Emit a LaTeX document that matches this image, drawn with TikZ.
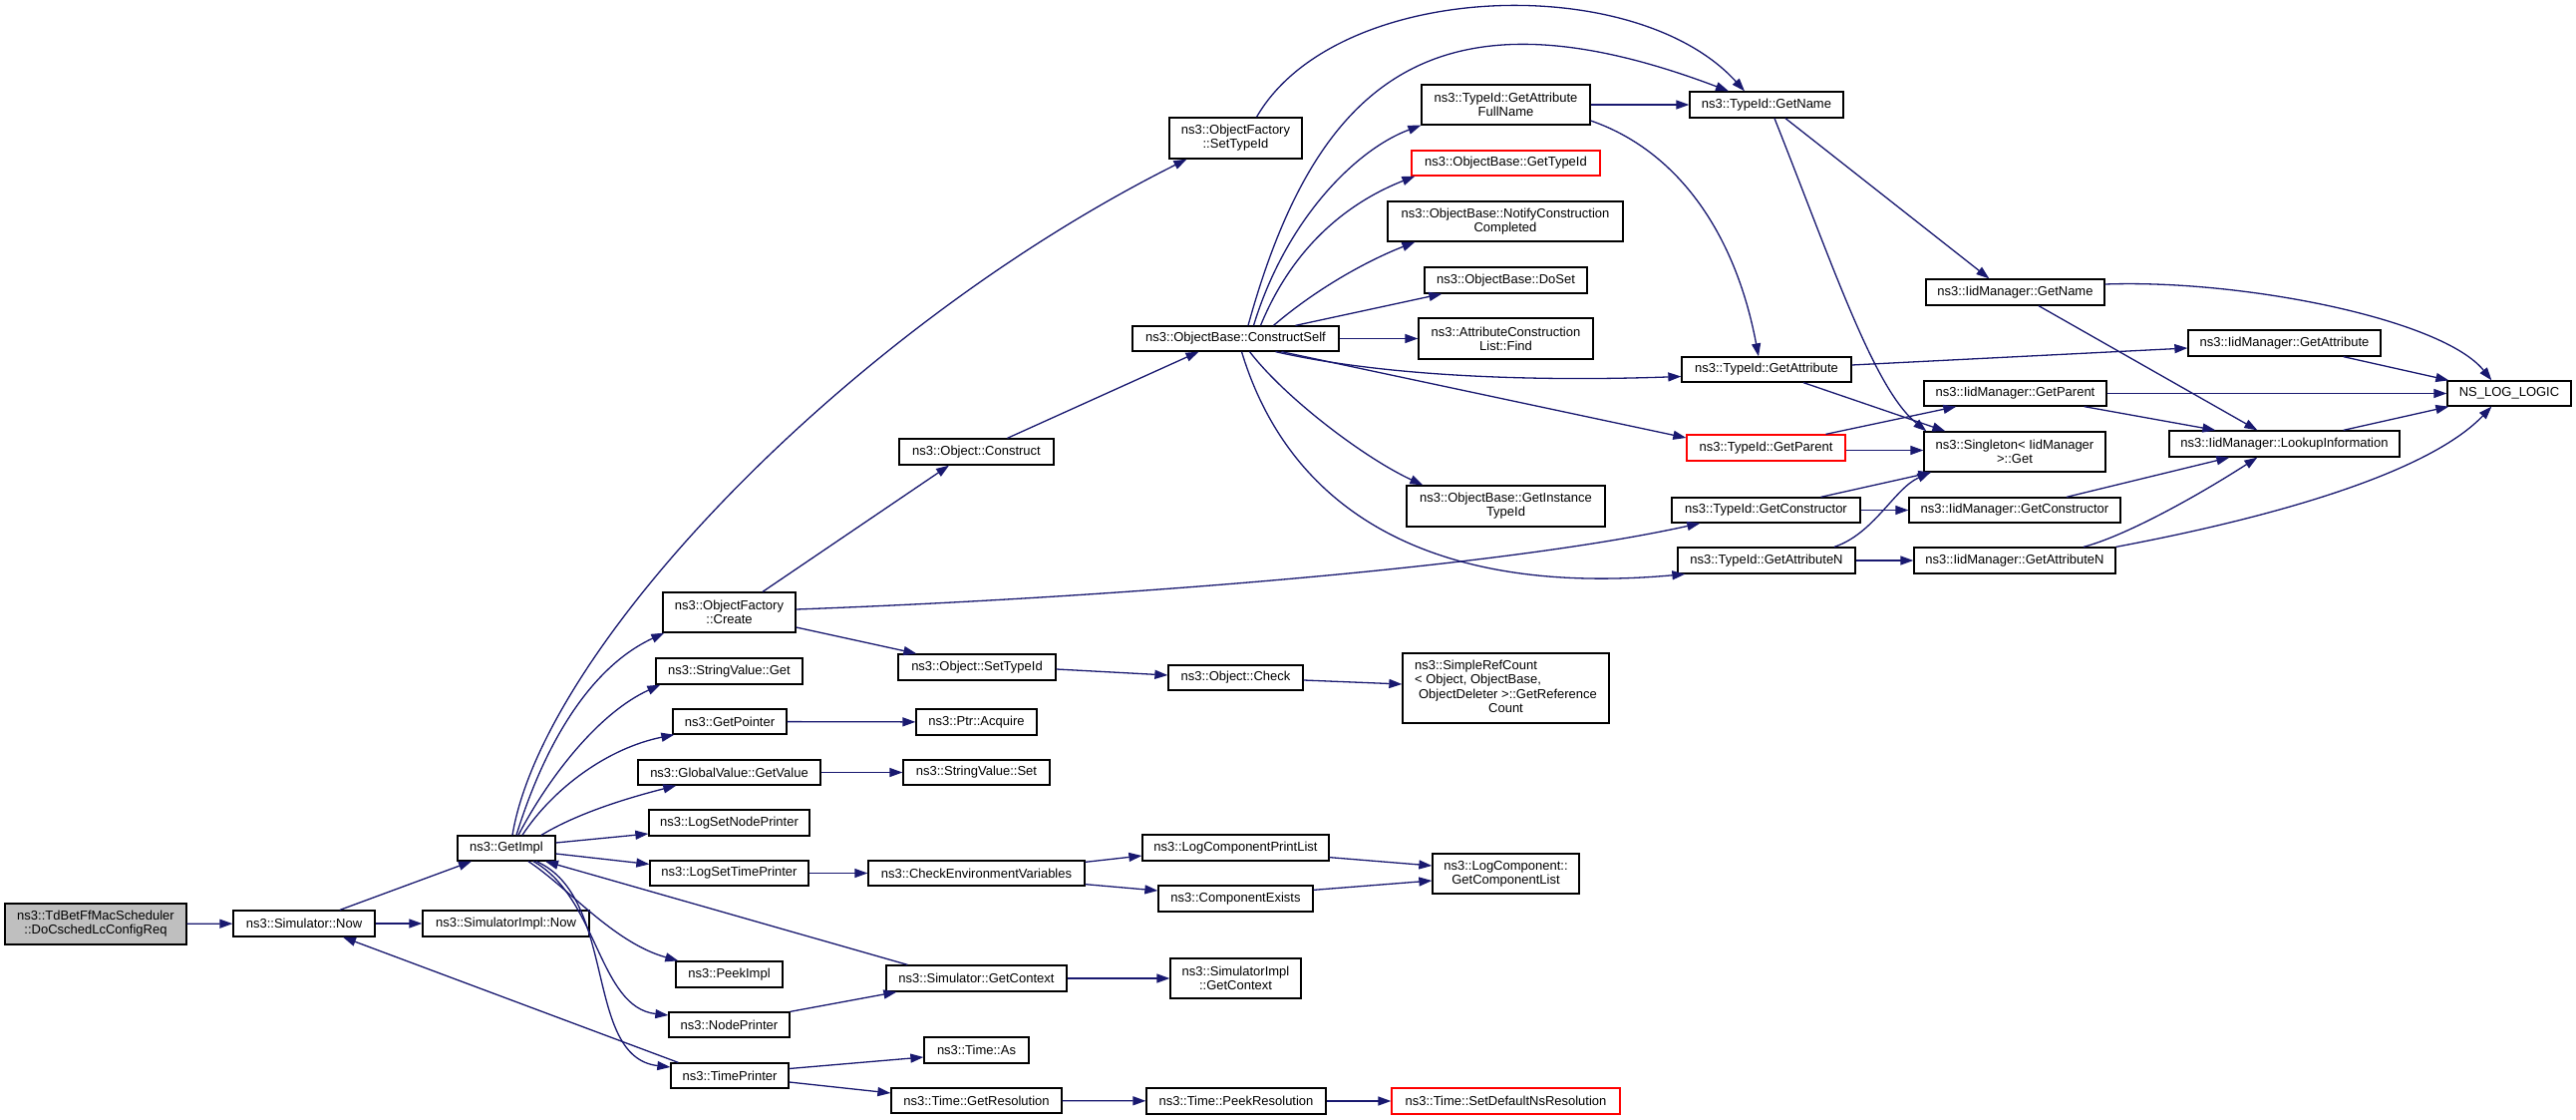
\documentclass[tikz,border=0pt]{standalone}
\usepackage{fontspec}
\setmainfont{Liberation Sans}
\usetikzlibrary{arrows.meta,calc}
\definecolor{edgeblue}{HTML}{191970}
\definecolor{rootgray}{HTML}{BFBFBF}
\begin{document}
\begin{tikzpicture}[x=1pt,y=-1pt,
  fn/.style={draw=black, line width=1.3pt, fill=white, inner sep=0pt, align=center, font=\fontsize{13pt}{14pt}\selectfont},
  trunc/.style={fn, draw=red},
  sz/.style 2 args={minimum width=#1pt, minimum height=#2pt},
  cedge/.style={draw=edgeblue, line width=1.3pt, -{Triangle[length=13pt,width=9pt]}}]
\fill[white, use as bounding box] (0,0) rectangle (2584,1123);

\node[fn, fill=rootgray, sz={182}{41}] (tdbet) at (96,926.5) {ns3::TdBetFfMacScheduler\\::DoCschedLcConfigReq};
\node[fn, sz={142}{26}] (simnow) at (305,926) {ns3::Simulator::Now};
\node[fn, sz={167}{26}] (simimplnow) at (507.5,926) {ns3::SimulatorImpl::Now};
\node[fn, sz={98}{25}] (getimpl) at (508,850.5) {ns3::GetImpl};
\node[fn, sz={133}{40}] (create) at (731.5,614) {ns3::ObjectFactory\\::Create};
\node[fn, sz={147}{26}] (svget) at (731.5,673) {ns3::StringValue::Get};
\node[fn, sz={114}{25}] (getpointer) at (732,723.5) {ns3::GetPointer};
\node[fn, sz={183}{25}] (gvget) at (731.5,774.5) {ns3::GlobalValue::GetValue};
\node[fn, sz={161}{26}] (lsnp) at (731.5,825) {ns3::LogSetNodePrinter};
\node[fn, sz={159}{25}] (lstp) at (731.5,875.5) {ns3::LogSetTimePrinter};
\node[fn, sz={107}{26}] (peekimpl) at (731.5,977) {ns3::PeekImpl};
\node[fn, sz={121}{25}] (nodeprinter) at (731.5,1027.5) {ns3::NodePrinter};
\node[fn, sz={118}{25}] (timeprinter) at (732,1078.5) {ns3::TimePrinter};
\node[fn, sz={158}{26}] (objsettypeid) at (980,669) {ns3::Object::SetTypeId};
\node[fn, sz={121}{26}] (ptracquire) at (979.5,724) {ns3::Ptr::Acquire};
\node[fn, sz={147}{25}] (svset) at (979.5,774.5) {ns3::StringValue::Set};
\node[fn, sz={217}{25}] (checkenv) at (979.5,875.5) {ns3::CheckEnvironmentVariables};
\node[fn, sz={181}{26}] (simgetctx) at (979.5,981) {ns3::Simulator::GetContext};
\node[fn, sz={105}{26}] (timeas) at (979.5,1053) {ns3::Time::As};
\node[fn, sz={171}{25}] (getres) at (979.5,1103.5) {ns3::Time::GetResolution};
\node[fn, sz={133}{41}] (ofsettypeid) at (1239.5,138.5) {ns3::ObjectFactory\\::SetTypeId};
\node[fn, sz={155}{26}] (objconstruct) at (979.5,453) {ns3::Object::Construct};
\node[fn, sz={207}{25}] (constructself) at (1239.5,339.5) {ns3::ObjectBase::ConstructSelf};
\node[fn, sz={135}{25}] (objcheck) at (1239.5,679.5) {ns3::Object::Check};
\node[fn, sz={187}{26}] (lcprintlist) at (1239.5,850) {ns3::LogComponentPrintList};
\node[fn, sz={155}{26}] (compexists) at (1239.5,901) {ns3::ComponentExists};
\node[fn, sz={131}{40}] (simimplctx) at (1239.5,981) {ns3::SimulatorImpl\\::GetContext};
\node[fn, sz={180}{26}] (peekres) at (1240,1104) {ns3::Time::PeekResolution};
\node[fn, sz={169}{40}] (gafn) at (1510.5,105) {ns3::TypeId::GetAttribute\\FullName};
\node[trunc, sz={189}{25}] (obgettypeid) at (1510.5,163.5) {ns3::ObjectBase::GetTypeId};
\node[fn, sz={236}{40}] (notify) at (1510,222) {ns3::ObjectBase::NotifyConstruction\\Completed};
\node[fn, sz={163}{26}] (doset) at (1510.5,281) {ns3::ObjectBase::DoSet};
\node[fn, sz={175}{41}] (find) at (1510.5,339.5) {ns3::AttributeConstruction\\List::Find};
\node[fn, sz={199}{41}] (instancetypeid) at (1510.5,507.5) {ns3::ObjectBase::GetInstance\\TypeId};
\node[fn, sz={207}{70}, font=\fontsize{13pt}{14.5pt}\selectfont] (simplerefcount) at (1510.5,690) {\begin{tabular}{@{}l@{}}ns3::SimpleRefCount\\< Object, ObjectBase,\\\hspace{4pt}ObjectDeleter >::GetReference\\\multicolumn{1}{@{}c@{}}{Count}\end{tabular}};
\node[fn, sz={147}{40}] (getcomplist) at (1510.5,876) {ns3::LogComponent::\\GetComponentList};
\node[trunc, sz={229}{26}] (setdefns) at (1510.5,1104) {ns3::Time::SetDefaultNsResolution};
\node[fn, sz={154}{26}] (tgetname) at (1772,105) {ns3::TypeId::GetName};
\node[fn, sz={170}{25}] (tgetattr) at (1772,370.5) {ns3::TypeId::GetAttribute};
\node[trunc, sz={159}{26}] (tgetparent) at (1771.5,449) {ns3::TypeId::GetParent};
\node[fn, sz={189}{25}] (tgetctor) at (1771.5,511.5) {ns3::TypeId::GetConstructor};
\node[fn, sz={178}{26}] (tgetattrn) at (1772,562) {ns3::TypeId::GetAttributeN};
\node[fn, sz={179}{26}] (iidgetname) at (2021.5,293) {ns3::IidManager::GetName};
\node[fn, sz={183}{25}] (iidgetparent) at (2021.5,394.5) {ns3::IidManager::GetParent};
\node[fn, sz={182}{40}] (singleton) at (2021,453) {ns3::Singleton< IidManager\\>::Get};
\node[fn, sz={212}{25}] (iidgetctor) at (2021,511.5) {ns3::IidManager::GetConstructor};
\node[fn, sz={202}{26}] (iidgetattrn) at (2021,562) {ns3::IidManager::GetAttributeN};
\node[fn, sz={193}{26}] (iidgetattr) at (2291.5,344) {ns3::IidManager::GetAttribute};
\node[fn, sz={231}{26}] (lookup) at (2291.5,445) {ns3::IidManager::LookupInformation};
\node[fn, sz={124}{25}] (nslog) at (2517,394.5) {NS\_LOG\_LOGIC};

\draw[cedge] (tdbet) -- (simnow);
\draw[cedge] (simnow) -- (simimplnow);
\draw[cedge] ([xshift=36pt]simnow.north) -- ([xshift=-35pt]getimpl.south);
\draw[cedge] ([xshift=8pt]timeprinter.north west) -- ([xshift=39pt]simnow.south);
\draw[cedge] ([xshift=6pt]getimpl.north) .. controls (545,650) and (850,330) .. ([xshift=18pt]ofsettypeid.south west);
\draw[cedge] ([xshift=10pt]getimpl.north) .. controls (545,750) and (590,670) .. ([xshift=2pt]create.south west);
\draw[cedge] ([xshift=12pt]getimpl.north) .. controls (550,780) and (600,715) .. ([xshift=5pt]svget.south west);
\draw[cedge] ([xshift=16pt]getimpl.north) .. controls (555,790) and (610,750) .. ([xshift=2pt]getpointer.south west);
\draw[cedge] ([xshift=35pt]getimpl.north) .. controls (580,815) and (630,800) .. ([xshift=39pt]gvget.south west);
\draw[cedge] ([yshift=5.5pt]getimpl.east) -- ([yshift=-11pt]lsnp.west);
\draw[cedge] ([yshift=-5.5pt]getimpl.east) -- ([yshift=9pt]lstp.west);
\draw[cedge] ([xshift=22pt]getimpl.south) .. controls (570,890) and (615,945) .. ([xshift=3pt]peekimpl.north west);
\draw[cedge] ([xshift=27pt]getimpl.south) .. controls (600,900) and (600,1010) .. ([yshift=9.5pt]nodeprinter.west);
\draw[cedge] ([xshift=30pt]getimpl.south) .. controls (620,900) and (585,1060) .. ([yshift=8.5pt]timeprinter.west);
\draw[cedge] ([xshift=22pt]simgetctx.north west) -- ([xshift=39pt]getimpl.south);
\draw[cedge] ([xshift=33.5pt]create.north) -- ([xshift=-27.5pt]objconstruct.south);
\draw[cedge] ([xshift=31pt]objconstruct.north) -- ([xshift=-37pt]constructself.south);
\draw[cedge] ([yshift=-15pt]create.east) -- ([xshift=19pt]objsettypeid.north west);
\draw[cedge] ([yshift=3pt]create.east) .. controls (1100,600) and (1500,570) .. ([xshift=29pt]tgetctor.south west);
\draw[cedge] ([xshift=21pt]ofsettypeid.north) .. controls (1340,-20) and (1640,-30) .. ([xshift=-22pt]tgetname.north);
\draw[cedge] ([xshift=12.5pt]constructself.north) .. controls (1320,80) and (1440,-20) .. ([xshift=-38pt]tgetname.north);
\draw[cedge] ([xshift=18pt]constructself.north) .. controls (1290,220) and (1360,150) .. (gafn.south west);
\draw[cedge] ([xshift=25pt]constructself.north) .. controls (1300,240) and (1360,200) .. ([xshift=4pt]obgettypeid.south west);
\draw[cedge] ([xshift=38pt]constructself.north) .. controls (1320,290) and (1370,262) .. ([xshift=28pt]notify.south west);
\draw[cedge] ([xshift=60pt]constructself.north) -- ([xshift=18pt]doset.south west);
\draw[cedge] (constructself) -- (find);
\draw[cedge] ([xshift=40pt]constructself.south) .. controls (1400,380) and (1560,382) .. ([yshift=-7pt]tgetattr.west);
\draw[cedge] ([xshift=46pt]constructself.south) -- ([yshift=10pt]tgetparent.west);
\draw[cedge] ([xshift=14pt]constructself.south) .. controls (1290,400) and (1370,460) .. ([xshift=17pt]instancetypeid.north west);
\draw[cedge] ([xshift=6pt]constructself.south) .. controls (1290,500) and (1420,600) .. ([xshift=8pt]tgetattrn.south west);
\draw[cedge] (gafn) -- (tgetname);
\draw[cedge] ([yshift=-16pt]gafn.east) .. controls (1680,150) and (1740,230) .. ([xshift=-8pt]tgetattr.north);
\draw[cedge] ([xshift=19pt]tgetname.south) -- ([xshift=64pt]iidgetname.north west);
\draw[cedge] ([xshift=8pt]tgetname.south) .. controls (1840,270) and (1880,390) .. ([xshift=3pt]singleton.north west);
\draw[cedge] ([yshift=4.5pt]tgetattr.east) -- ([yshift=-5pt]iidgetattr.west);
\draw[cedge] ([xshift=37pt]tgetattr.south) -- ([xshift=22pt]singleton.north west);
\draw[cedge] ([xshift=60pt]tgetparent.north) -- ([xshift=33pt]iidgetparent.south west);
\draw[cedge] ([yshift=-2.5pt]tgetparent.east) -- ([yshift=1.5pt]singleton.west);
\draw[cedge] ([xshift=55pt]tgetctor.north) -- ([xshift=8pt]singleton.south west);
\draw[cedge] (tgetctor) -- (iidgetctor);
\draw[cedge] ([xshift=68pt]tgetattrn.north) .. controls (1880,535) and (1900,490) .. ([xshift=7pt]singleton.south west);
\draw[cedge] (tgetattrn) -- (iidgetattrn);
\draw[cedge] ([yshift=8pt]iidgetname.east) .. controls (2250,280) and (2450,320) .. ([xshift=45pt]nslog.north west);
\draw[cedge] ([xshift=23.5pt]iidgetname.south) -- ([xshift=89pt]lookup.north west);
\draw[cedge] ([xshift=-38pt]iidgetattr.south east) -- ([xshift=2pt]nslog.north west);
\draw[cedge] (iidgetparent) -- (nslog);
\draw[cedge] ([xshift=-23pt]iidgetparent.south east) -- ([xshift=47pt]lookup.north west);
\draw[cedge] ([xshift=-57pt]lookup.north east) -- ([xshift=2pt]nslog.south west);
\draw[cedge] ([xshift=52pt]iidgetctor.north) -- ([xshift=61pt]lookup.south west);
\draw[cedge] ([xshift=69pt]iidgetattrn.north) .. controls (2130,538) and (2200,500) .. ([xshift=89pt]lookup.south west);
\draw[cedge] (iidgetattrn.north east) .. controls (2300,515) and (2440,470) .. ([xshift=45pt]nslog.south west);
\draw[cedge] ([yshift=-2pt]objsettypeid.east) -- ([yshift=2.5pt]objcheck.west);
\draw[cedge] ([yshift=-2.5pt]objcheck.east) -- ([yshift=4pt]simplerefcount.west);
\draw[cedge] (getpointer) -- (ptracquire);
\draw[cedge] (gvget) -- (svset);
\draw[cedge] (lstp) -- (checkenv);
\draw[cedge] ([yshift=-2pt]checkenv.north east) -- ([yshift=-8pt]lcprintlist.west);
\draw[cedge] ([yshift=2pt]checkenv.south east) -- ([yshift=8pt]compexists.west);
\draw[cedge] ([yshift=4pt]lcprintlist.south east) -- ([yshift=8pt]getcomplist.west);
\draw[cedge] ([yshift=-5pt]compexists.north east) -- ([yshift=-7pt]getcomplist.west);
\draw[cedge] (nodeprinter.north east) -- ([xshift=11pt]simgetctx.south west);
\draw[cedge] (simgetctx) -- (simimplctx);
\draw[cedge] ([yshift=7pt]timeprinter.east) -- ([yshift=-7pt]timeas.west);
\draw[cedge] ([yshift=-6.5pt]timeprinter.east) -- ([yshift=7.5pt]getres.west);
\draw[cedge] (getres) -- (peekres);
\draw[cedge] (peekres) -- (setdefns);
\end{tikzpicture}
\end{document}
